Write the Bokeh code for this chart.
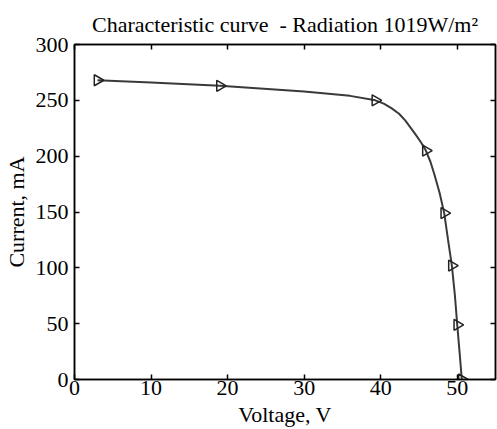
import numpy as np
from bokeh.plotting import figure
from bokeh.models import LinearAxis, Range1d, FixedTicker
from bokeh.embed import file_html
from bokeh.resources import INLINE

# Marker points (voltage V, current mA)
voltage_pts = [3.0, 19.0, 39.3, 45.9, 48.3, 49.3, 50.0, 50.6]
current_pts = [268, 263, 250, 205, 149, 102, 49, 0]

# Smooth characteristic curve
voltage_curve = [3.0, 10.0, 19.0, 30.0, 36.0, 39.3, 40.4, 41.4, 42.4, 43.2, 44.5, 45.3, 45.9,
                 46.5, 47.0, 47.7, 48.3, 48.8, 49.3, 49.7, 50.0, 50.3, 50.6]
current_curve = [268, 266, 263, 258, 254, 250, 247, 243, 238, 232, 220, 212, 205,
                 195, 184, 167, 149, 125, 102, 75, 49, 25, 0]

x_ticks = [0, 10, 20, 30, 40, 50]
y_ticks = [0, 50, 100, 150, 200, 250, 300]

FONT = "Liberation Serif"
FS = "22px"

p = figure(width=497, height=429, output_backend="svg", toolbar_location=None,
           x_range=Range1d(0, 55), y_range=Range1d(0, 300),
           min_border_left=73, min_border_right=2, min_border_top=44, min_border_bottom=49,
           title="Characteristic curve\u00a0 - Radiation 1019W/m\u00b2")
p.title.align = "center"
p.title.text_font = FONT
p.title.text_font_size = "22px"
p.title.text_font_style = "normal"
p.title.text_color = "black"
p.title.standoff = 15

p.grid.visible = False
p.outline_line_color = "black"
p.outline_line_width = 1.5

for ax in (p.xaxis[0], p.yaxis[0]):
    ax.major_label_text_font = FONT
    ax.major_label_text_font_size = FS
    ax.major_label_text_color = "black"
    ax.axis_label_text_font = FONT
    ax.axis_label_text_font_size = FS
    ax.axis_label_text_font_style = "normal"
    ax.axis_label_text_color = "black"
    ax.major_tick_in = 5
    ax.major_tick_out = 0
    ax.minor_tick_in = 0
    ax.minor_tick_out = 0
    ax.axis_line_width = 1.5
    ax.major_tick_line_width = 1.5

p.xaxis[0].ticker = FixedTicker(ticks=x_ticks)
p.yaxis[0].ticker = FixedTicker(ticks=y_ticks)
p.xaxis[0].axis_label = "Voltage, V"
p.yaxis[0].axis_label = "Current, mA"
p.xaxis[0].major_label_standoff = 1
p.yaxis[0].major_label_standoff = 6
p.xaxis[0].axis_label_standoff = 4
p.yaxis[0].axis_label_standoff = 4

top = LinearAxis(ticker=FixedTicker(ticks=x_ticks),
                 major_label_overrides={t: "" for t in x_ticks},
                 major_label_standoff=0,
                 major_tick_in=5, major_tick_out=0, minor_tick_in=0, minor_tick_out=0,
                 axis_line_width=1.5, major_tick_line_width=1.5)
right = LinearAxis(ticker=FixedTicker(ticks=y_ticks),
                   major_label_overrides={t: "" for t in y_ticks},
                   major_label_standoff=0,
                   major_tick_in=5, major_tick_out=0, minor_tick_in=0, minor_tick_out=0,
                   axis_line_width=1.5, major_tick_line_width=1.5)
p.add_layout(top, "above")
p.add_layout(right, "right")

p.line(voltage_curve, current_curve, line_color="#3a3a3a", line_width=2)
p.scatter(voltage_pts, current_pts, marker="triangle", angle=-np.pi / 2, size=11,
          fill_color=None, line_color="#222222", line_width=1.5)

open("out.html", "w").write(file_html(p, INLINE))
